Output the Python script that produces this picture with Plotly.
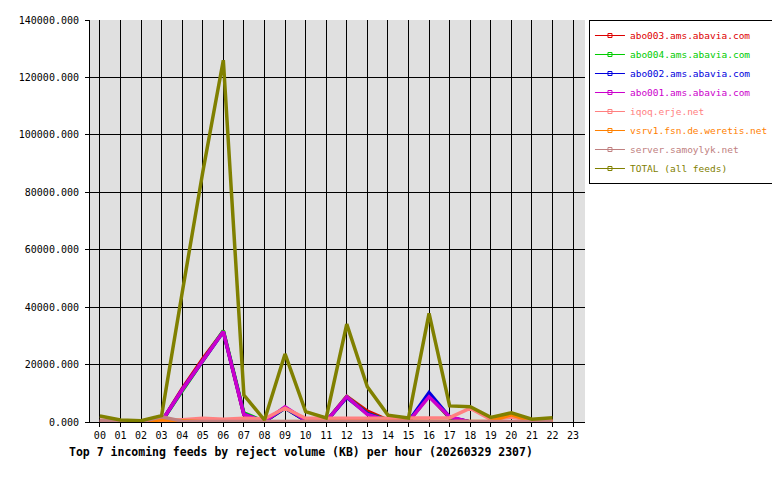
'''
    Top 7 incoming feeds by reject volume, per hour.
'''

import plotly.graph_objects as go

hours = ['%02d' % h for h in range(24)]

feed_names = [
    'abo003.ams.abavia.com',
    'abo004.ams.abavia.com',
    'abo002.ams.abavia.com',
    'abo001.ams.abavia.com',
    'iqoq.erje.net',
    'vsrv1.fsn.de.weretis.net',
    'server.samoylyk.net',
    'TOTAL (all feeds)',
]
feed_colors = ['#dd0000', '#00cc00', '#0000dd', '#cc00cc',
               '#ff8080', '#ff8000', '#c08080', '#808000']

# KB per hour, 00 .. 22 (no data yet for 23)
abo003 = [150, 50, 20, 150, 11600, 22000, 31600, 2600, 150, 5000, 500, 200,
          8900, 3800, 700, 150, 9300, 1400, 50, 0, 0, 0, 0]
abo004 = [150, 50, 20, 100, 10800, 21200, 31800, 3200, 150, 4900, 500, 200,
          8800, 3000, 600, 150, 9300, 1500, 50, 0, 0, 0, 0]
abo002 = [150, 50, 20, 100, 11200, 21500, 31400, 2700, 150, 4900, 500, 200,
          8600, 2900, 500, 150, 10200, 1700, 50, 0, 0, 0, 0]
abo001 = [150, 50, 20, 150, 11200, 21600, 31500, 2600, 150, 5300, 600, 200,
          8800, 2600, 500, 150, 8800, 1800, 0, 0, 0, 0, 0]
iqoq = [600, 300, 200, 300, 800, 1300, 1000, 1300, 1100, 4800, 1300, 1200,
        1300, 1300, 1300, 1300, 1500, 1500, 4800, 900, 1700, 500, 400]
vsrv1 = [0, 0, 0, 800, 400, 100, 100, 100, 0, 200, 100, 0,
         100, 100, 100, 100, 100, 100, 0, 300, 2500, 300, 200]
samoylyk = [500, 200, 100, 1800, 300, 200, 200, 200, 200, 200, 200, 200,
            200, 200, 200, 200, 200, 200, 200, 200, 200, 200, 200]
total = [2100, 700, 450, 2200, 45000, 87000, 126000, 9400, 700, 23700, 3600,
         1400, 34100, 12300, 2400, 1400, 37800, 5600, 5300, 1600, 3200, 1000,
         1500]

series = [abo003, abo004, abo002, abo001, iqoq, vsrv1, samoylyk, total]

mono = 'DejaVu Sans Mono'

fig = go.Figure()
for name, color, vals in zip(feed_names, feed_colors, series):
    fig.add_trace(go.Scatter(
        x=list(range(len(vals))), y=vals, mode='lines',
        line=dict(color=color, width=3.5),
        legendgroup=name, showlegend=False,
    ))
    # thin line + small box, legend only
    fig.add_trace(go.Scatter(
        x=[None], y=[None], mode='lines+markers',
        name='<span style="color:%s">%s</span>' % (color, name),
        line=dict(color=color, width=1),
        marker=dict(symbol='square-open', size=4, color=color),
        legendgroup=name,
    ))

# page body adds 8px, margins are shifted to compensate
fig.update_layout(
    width=780, height=480,
    margin=dict(l=82, r=203, t=12, b=66, autoexpand=False),
    paper_bgcolor='white', plot_bgcolor='#e0e0e0',
    font=dict(family=mono, size=10, color='black'),
    showlegend=True,
    legend=dict(x=1.008, y=1.0, xanchor='left', yanchor='top',
                bgcolor='white', bordercolor='black', borderwidth=1,
                font=dict(family=mono, size=9.5), itemwidth=30,
                tracegroupgap=0),
)
fig.update_xaxes(
    range=[-0.48, 23.58], tickvals=list(range(24)), ticktext=hours,
    showgrid=True, gridcolor='black', gridwidth=1,
    showline=True, linecolor='black', mirror=False,
    ticks='outside', ticklen=4, tickcolor='black', zeroline=False,
    automargin=False,
)
fig.update_yaxes(
    range=[0, 140000], dtick=20000, tickformat='.3f',
    showgrid=True, gridcolor='black', gridwidth=1,
    showline=True, linecolor='black',
    ticks='outside', ticklen=4, tickcolor='black', zeroline=False,
    ticklabelstandoff=4, automargin=False,
)
fig.add_annotation(
    text='<b>Top 7 incoming feeds by reject volume (KB) per hour (20260329 2307)</b>',
    xref='paper', yref='paper', x=0.426, y=-0.075, xanchor='center',
    yanchor='middle', showarrow=False, font=dict(family=mono, size=11.5),
)

fig.write_html("out.html")
